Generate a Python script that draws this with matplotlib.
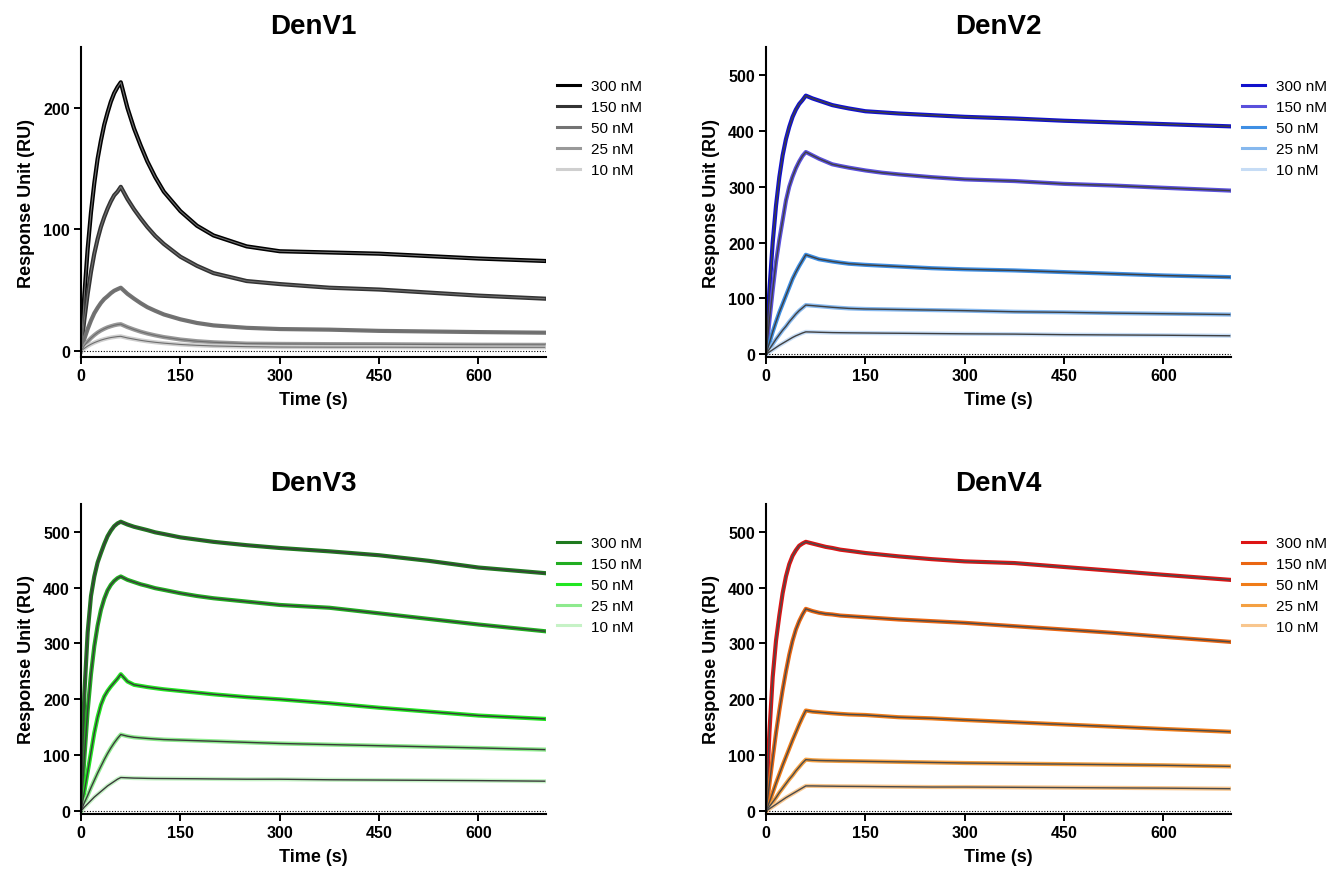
import numpy as np
import matplotlib
matplotlib.use("Agg")
import matplotlib.pyplot as plt

plt.rcParams['font.family'] = ['Liberation Sans', 'DejaVu Sans']

t = [0, 2.5, 5, 10, 15, 20, 25, 30, 35, 40, 45, 50, 55, 60,
     70, 80, 90, 100, 112, 125, 150, 175, 200, 250, 300, 375, 450, 525, 600, 700]
conc_labels = ['300 nM', '150 nM', '50 nM', '25 nM', '10 nM']

denv1_300 = [0, 24, 46, 84, 114, 138, 158, 173, 186, 196, 205, 212, 217, 221,
             200, 183, 169, 156, 143, 131, 115, 103, 95, 86, 82, 81, 80, 78, 76, 74]
denv1_150 = [0, 13.6, 26, 47, 65, 80, 92, 102, 110, 117, 123, 128, 131, 135,
             125, 116.5, 109, 102, 94.6, 88, 77.5, 70, 64, 57.5, 55, 52, 50.5, 48, 45.5, 43]
denv1_50 = [0, 5.3, 10, 18, 25, 31, 35.5, 39.5, 42.7, 45, 47.5, 49.5, 50.8, 52,
            47, 43, 39.3, 36, 33, 30, 26, 23, 21, 19, 18, 17.5, 16.5, 16, 15.5, 15]
denv1_25 = [0, 2.2, 4.2, 7.7, 10.6, 13, 15.1, 16.8, 18.2, 19.4, 20.3, 21.1, 21.7, 22,
            19.6, 17.6, 15.8, 14.3, 12.8, 11.4, 9.4, 8.0, 7.1, 6.0, 5.8, 5.6, 5.5, 5.3, 5.1, 5]
denv1_10 = [0, 1.1, 2.1, 4, 5.5, 6.8, 7.9, 8.9, 9.7, 10.4, 11, 11.4, 11.8, 12,
            10.7, 9.7, 8.7, 7.9, 7.1, 6.4, 5.3, 4.6, 4.1, 3.5, 3.2, 3.1, 3.1, 3, 3, 3]

denv2_300 = [0, 61, 114, 200, 266, 317, 356, 385, 407, 425, 438, 448, 455, 463,
             458, 454, 450, 446, 443, 440, 435, 433, 431, 428, 425, 422, 418, 415, 412, 408]
denv2_150 = [0, 30, 60, 115, 165, 205, 240, 275, 300, 318, 333, 345, 355, 362,
             356, 350, 345, 340, 337, 334, 329, 325, 322, 317, 313, 310, 305, 302, 298, 293]
denv2_50 = [0, 10, 20, 40, 58, 75, 90, 105, 120, 135, 147, 158, 168, 178,
            174, 170, 168, 166, 164, 162, 160, 158.5, 157, 154, 152, 150, 147, 144, 141, 138]
denv2_25 = [0, 4.5, 9, 18, 27, 35, 43, 50, 58, 65, 72, 78, 83, 88,
            87, 86, 85, 84, 83, 82, 81, 80.5, 80, 79, 78, 76, 75, 73.5, 72.5, 71]
denv2_10 = [0, 2, 4, 8, 12, 16, 19.5, 23, 26.5, 30, 33, 35.5, 38, 40,
            39.7, 39.3, 39, 38.7, 38.5, 38.3, 38, 37.7, 37.5, 37, 36.5, 36, 35, 34.5, 34, 33]

denv3_300 = [0, 110, 210, 320, 385, 420, 445, 462, 478, 492, 502, 510, 515, 518,
             513, 509, 506, 503, 499, 496, 490, 486, 482, 476, 471, 465, 458, 448, 436, 426]
denv3_150 = [0, 48, 95, 180, 245, 295, 332, 360, 380, 395, 405, 412, 417, 420,
             414, 410, 406, 403, 399, 396, 390, 385, 381, 375, 369, 364, 354, 344, 334, 322]
denv3_50 = [0, 17, 35, 70, 105, 140, 168, 190, 205, 215, 223, 230, 237, 245,
            232, 226, 224, 222, 220, 218, 215, 212, 209, 204, 200, 193, 185, 178, 171, 165]
denv3_25 = [0, 7.5, 15, 28, 42, 55, 68, 80, 92, 103, 113, 122, 130, 137,
            134, 132, 131, 130, 129, 128, 127, 126, 125, 123, 121, 119, 117, 115, 113, 110]
denv3_10 = [0, 3.5, 7, 13, 19, 25, 30, 35, 40, 45, 49, 53, 57, 60,
            59.5, 59, 58.8, 58.5, 58.3, 58.2, 58, 57.8, 57.5, 57, 57, 56, 55.5, 55, 54.5, 53.5]

denv4_300 = [0, 72, 140, 240, 305, 350, 390, 420, 442, 457, 467, 475, 479, 482,
             479, 476, 473, 471, 468, 466, 462, 459, 456, 451, 447, 444, 437, 430, 423, 414]
denv4_150 = [0, 24, 48, 95, 140, 180, 217, 250, 280, 305, 325, 340, 352, 362,
             358, 355, 353, 352, 350, 349, 347, 345, 343, 340, 337, 331, 325, 319, 312, 303]
denv4_50 = [0, 8, 16, 33, 50, 66, 82, 97, 112, 127, 141, 155, 168, 180,
            178, 177, 176, 175, 174, 173, 172, 170, 168, 166, 163, 159, 155, 151, 147, 142]
denv4_25 = [0, 4, 8, 16, 24, 33, 41, 49, 57, 64, 72, 79, 86, 92,
            91, 90.5, 90.2, 90, 89.7, 89.5, 89, 88.5, 88, 87, 86, 85, 84, 83, 82, 80]
denv4_10 = [0, 2, 4, 8, 12, 16, 20, 24, 27.5, 31, 34.5, 38, 41.5, 45,
            45, 44.8, 44.6, 44.5, 44.3, 44.2, 44, 43.7, 43.5, 43, 43, 42.5, 42, 41.5, 41, 40]

panels = [
    ('DenV1', [denv1_300, denv1_150, denv1_50, denv1_25, denv1_10],
     ['#000000', '#333333', '#737373', '#999999', '#cfcfcf'], '#6e6e6e', 0.8, 250, [0, 100, 200]),
    ('DenV2', [denv2_300, denv2_150, denv2_50, denv2_25, denv2_10],
     ['#1111cc', '#5a50dc', '#3f8fe4', '#86b8ee', '#c6dcf5'], '#404040', 1.0, 550, [0, 100, 200, 300, 400, 500]),
    ('DenV3', [denv3_300, denv3_150, denv3_50, denv3_25, denv3_10],
     ['#1f7a1f', '#22ad22', '#22e622', '#8eea8e', '#c6f2c6'], '#3a3a3a', 1.0, 550, [0, 100, 200, 300, 400, 500]),
    ('DenV4', [denv4_300, denv4_150, denv4_50, denv4_25, denv4_10],
     ['#dd1414', '#ea6612', '#f07c18', '#f4a042', '#f8c68e'], '#4a4a4a', 1.0, 550, [0, 100, 200, 300, 400, 500]),
]

fig = plt.figure(figsize=(13.33, 8.7), dpi=100)
lefts = [0.0608, 0.5747, 0.0608, 0.5747]
bottoms = [0.5885, 0.5885, 0.0634, 0.0634]

for i, (name, series, colors, fitcol, fitlw, ytop, yticks) in enumerate(panels):
    ax = fig.add_axes([lefts[i], bottoms[i], 0.3488, 0.3563])
    for vals, col, lab in zip(series, colors, conc_labels):
        ax.plot(t, vals, color=col, lw=3.0, label=lab, solid_joinstyle='round')
    # fitted curves
    for vals in series:
        ax.plot(t, vals, color=fitcol, lw=fitlw)
    ax.axhline(0, color='black', lw=0.8, ls=(0, (1, 1.5)))
    ax.set_xlim(0, 702)
    ax.set_ylim(-5, ytop)
    ax.set_xticks([0, 150, 300, 450, 600])
    ax.set_yticks(yticks)
    for s in ['top', 'right']:
        ax.spines[s].set_visible(False)
    for s in ['left', 'bottom']:
        ax.spines[s].set_linewidth(1.5)
    ax.tick_params(direction='out', length=5, width=1.4, labelsize=11.5, pad=3)
    for lbl in ax.get_xticklabels() + ax.get_yticklabels():
        lbl.set_fontweight('bold')
    ax.set_xlabel('Time (s)', fontsize=13, fontweight='bold', labelpad=6)
    ax.set_ylabel('Response Unit (RU)', fontsize=13, fontweight='bold', labelpad=6)
    ax.set_title(name, fontsize=20, fontweight='bold', pad=10)
    leg = ax.legend(loc='upper left', bbox_to_anchor=(1.0, 0.93), frameon=False, fontsize=11,
                    handlelength=1.5, handletextpad=0.75, labelspacing=0.45, borderaxespad=0.3)
    for h in leg.get_lines():
        h.set_linewidth(2.2)

fig.savefig('out.png', dpi=100)
